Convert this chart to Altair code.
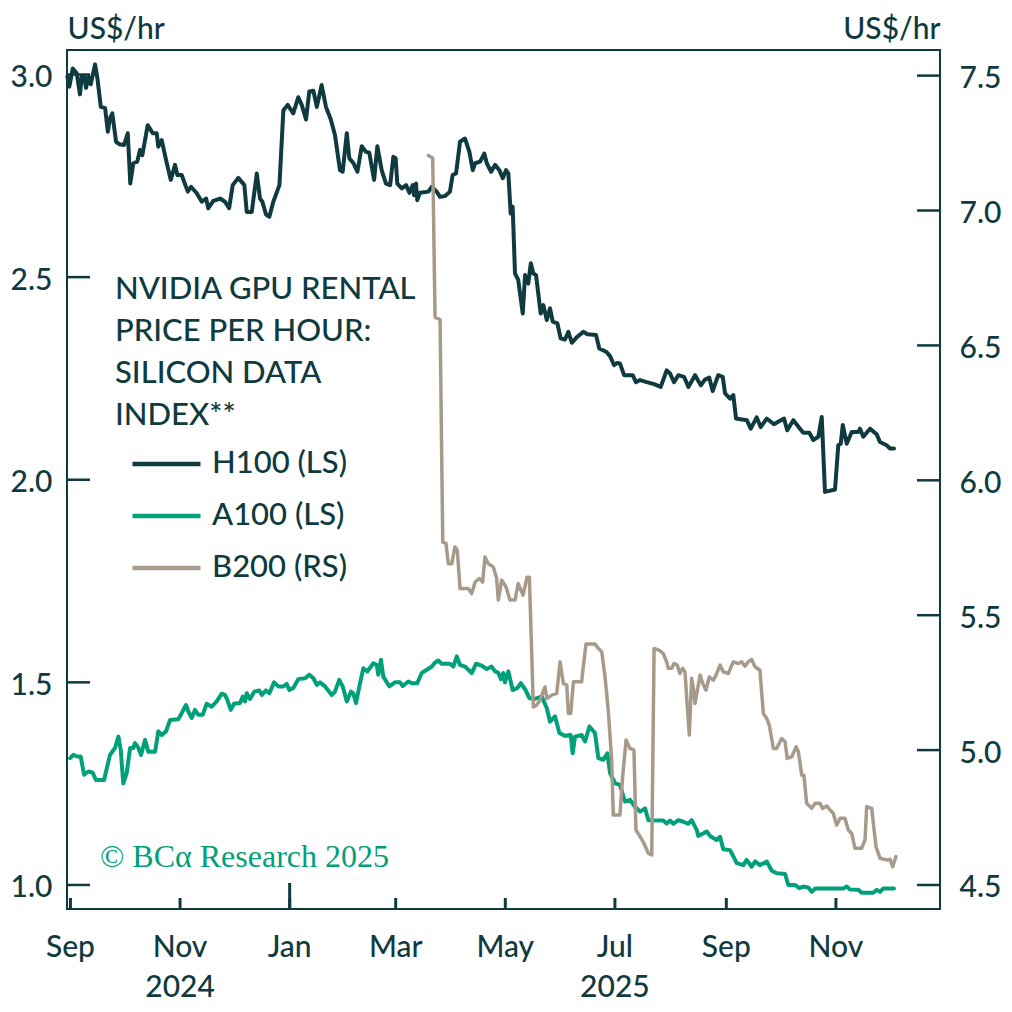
import altair as alt
import pandas as pd

BASE = pd.Timestamp("2024-09-01")

# day offsets from 2024-09-01 and US$/hr values
h100_day = [-1.7,-0.6,1.3,3.5,5.3,6.3,7.6,8.7,10.0,11.3,
            13.7,15.0,16.9,19.3,20.8,22.0,23.3,25.4,27.2,29.8,
            31.9,33.3,35.0,37.2,38.7,40.0,43.0,45.8,48.0,48.9,
            50.8,53.2,55.8,58.2,59.5,61.9,65.3,67.1,70.3,73.1,
            75.5,76.7,79.5,83.3,86.0,88.3,90.3,93.4,96.8,98.1,
            100.9,103.7,105.5,106.8,108.8,110.7,112.9,116.3,118.5,120.9,
            124.0,126.8,128.7,131.1,132.9,135.2,137.1,139.8,142.2,144.9,
            147.2,150.0,151.5,153.8,155.2,157.4,159.7,162.1,164.5,166.3,
            169.0,170.8,173.2,175.6,177.9,179.7,181.0,181.9,184.4,186.8,
            188.6,190.5,191.2,192.3,193.0,194.5,199.2,201.1,203.8,205.7,
            208.5,211.2,212.7,214.6,216.8,219.6,222.0,223.9,225.2,228.0,
            230.3,231.7,234.1,236.3,238.7,240.6,242.4,243.7,245.0,246.1,
            247.4,249.2,251.7,253.0,254.8,256.2,257.6,259.1,261.7,263.2,
            265.1,266.9,268.4,271.0,272.8,275.2,277.1,279.0,282.1,285.4,
            287.7,292.5,294.3,298.1,300.3,302.5,304.3,305.8,308.1,312.9,
            314.7,317.0,320.7,324.8,328.5,331.8,333.7,335.9,338.3,341.5,
            343.9,347.6,350.8,353.1,355.5,357.4,360.5,363.0,364.3,367.1,
            368.9,370.4,376.4,378.6,381.9,384.1,387.5,391.5,393.9,397.1,
            398.9,402.3,406.0,407.8,411.2,413.4,416.2,418.1,419.9,425.5,
            427.3,428.7,429.8,432.0,434.8,438.5,439.4,441.2,445.0,448.7,
            450.5,454.2,456.1,458.3]
h100_val = [2.995,2.970,3.015,3.003,2.951,2.995,2.995,2.967,2.995,2.976,
            3.025,2.991,2.920,2.917,2.859,2.892,2.904,2.834,2.828,2.826,
            2.855,2.731,2.781,2.785,2.814,2.801,2.875,2.855,2.855,2.822,
            2.838,2.789,2.740,2.777,2.752,2.752,2.711,2.723,2.707,2.686,
            2.694,2.670,2.688,2.694,2.686,2.670,2.727,2.745,2.727,2.661,
            2.661,2.756,2.694,2.686,2.655,2.649,2.686,2.727,2.912,2.925,
            2.904,2.944,2.925,2.889,2.958,2.960,2.920,2.974,2.920,2.889,
            2.851,2.764,2.760,2.855,2.793,2.782,2.760,2.823,2.809,2.807,
            2.740,2.823,2.764,2.731,2.727,2.797,2.793,2.731,2.719,2.727,
            2.708,2.727,2.702,2.731,2.690,2.708,2.711,2.723,2.711,2.698,
            2.700,2.711,2.752,2.756,2.834,2.842,2.809,2.764,2.781,2.785,
            2.805,2.781,2.760,2.777,2.764,2.744,2.764,2.756,2.657,2.674,
            2.509,2.493,2.410,2.505,2.484,2.534,2.509,2.505,2.410,2.431,
            2.394,2.423,2.390,2.386,2.349,2.346,2.365,2.338,2.353,2.365,
            2.359,2.357,2.324,2.316,2.305,2.283,2.288,2.287,2.258,2.258,
            2.241,2.246,2.241,2.236,2.229,2.270,2.262,2.241,2.258,2.254,
            2.229,2.258,2.233,2.247,2.252,2.219,2.258,2.254,2.213,2.200,
            2.209,2.151,2.147,2.126,2.154,2.130,2.151,2.137,2.143,2.151,
            2.122,2.147,2.126,2.116,2.116,2.098,2.106,2.155,1.970,1.976,
            2.085,2.089,2.135,2.089,2.118,2.118,2.126,2.106,2.126,2.112,
            2.093,2.085,2.077,2.077]

a100_day = [-0.2,1.6,3.8,5.7,7.6,10.0,12.4,14.2,18.7,22.0,
            24.8,26.7,28.0,29.4,31.3,33.2,35.0,35.9,37.5,39.3,
            41.5,43.3,47.1,48.9,50.8,53.2,55.4,60.0,61.9,64.3,
            65.6,67.5,69.3,71.2,73.6,75.8,78.6,81.4,84.2,86.0,
            87.3,89.2,91.0,94.4,95.9,97.2,98.1,99.9,102.3,105.1,
            106.5,108.8,110.7,113.3,115.7,118.5,120.4,121.8,124.0,126.8,
            130.6,132.9,135.2,137.1,138.9,141.7,145.4,147.2,149.6,151.5,
            153.8,156.1,157.4,158.9,160.8,163.0,165.2,168.6,170.5,171.3,
            172.8,174.1,177.5,180.6,183.4,184.9,188.0,189.9,193.0,195.5,
            198.3,201.1,202.9,204.7,206.6,211.2,213.1,215.0,216.8,219.6,
            223.3,225.7,228.9,231.7,234.4,236.3,238.1,239.5,240.9,241.8,
            243.7,246.1,248.7,250.6,253.0,255.4,258.5,262.3,265.1,266.9,
            269.7,272.1,275.2,278.4,279.5,280.8,284.5,286.4,288.8,291.9,
            293.8,296.6,298.8,300.3,303.1,305.8,308.6,311.4,314.2,317.0,
            319.8,321.6,329.9,331.8,333.7,335.5,338.3,341.1,343.9,345.7,
            348.5,349.4,354.1,355.9,359.6,361.5,363.3,367.1,370.8,374.5,
            376.3,379.1,381.0,383.7,387.5,390.3,393.1,397.7,399.5,403.2,
            405.6,407.8,410.6,412.5,414.4,430.1,432.0,433.8,438.5,440.3,
            446.8,448.7,450.5,452.3,458.3]
a100_val = [1.313,1.321,1.317,1.317,1.272,1.280,1.277,1.259,1.259,1.321,
            1.338,1.366,1.333,1.251,1.276,1.338,1.338,1.350,1.341,1.321,
            1.358,1.329,1.329,1.379,1.370,1.379,1.407,1.409,1.424,1.444,
            1.428,1.412,1.432,1.420,1.420,1.447,1.440,1.453,1.472,1.469,
            1.457,1.432,1.447,1.449,1.465,1.453,1.473,1.459,1.477,1.480,
            1.469,1.480,1.473,1.500,1.490,1.490,1.496,1.481,1.486,1.508,
            1.510,1.519,1.510,1.494,1.500,1.490,1.469,1.477,1.506,1.490,
            1.453,1.477,1.473,1.449,1.490,1.535,1.527,1.547,1.543,1.519,
            1.556,1.514,1.490,1.500,1.500,1.491,1.502,1.498,1.498,1.523,
            1.531,1.539,1.549,1.554,1.546,1.546,1.539,1.564,1.543,1.539,
            1.523,1.546,1.541,1.533,1.539,1.527,1.524,1.508,1.523,1.500,
            1.527,1.481,1.486,1.498,1.483,1.461,1.459,1.465,1.436,1.403,
            1.416,1.375,1.368,1.370,1.325,1.366,1.370,1.354,1.391,1.375,
            1.313,1.309,1.325,1.276,1.251,1.247,1.206,1.210,1.193,1.181,
            1.189,1.160,1.159,1.152,1.159,1.151,1.160,1.156,1.151,1.160,
            1.136,1.121,1.132,1.121,1.111,1.119,1.088,1.086,1.054,1.049,
            1.062,1.045,1.058,1.049,1.058,1.035,1.029,1.027,1.000,1.000,
            0.992,0.996,0.994,0.983,0.991,0.991,0.996,0.989,0.988,0.981,
            0.981,0.988,0.983,0.991,0.991]

b200_day = [199.2,201.6,202.9,204.7,205.7,207.2,209.0,210.3,212.2,214.0,
            215.3,216.8,221.4,223.3,225.2,227.5,229.4,230.7,232.6,235.3,
            237.2,238.1,240.0,242.4,244.6,247.4,249.2,251.9,254.1,255.4,
            257.6,259.5,261.3,264.1,265.1,267.8,270.6,272.5,274.3,276.2,
            277.1,278.4,279.9,284.5,285.4,286.9,291.9,293.8,295.7,297.5,
            299.3,301.2,302.1,305.8,307.3,309.2,311.4,313.6,314.7,317.0,
            319.2,321.6,323.5,324.8,327.7,329.9,331.8,332.7,334.6,335.9,
            337.7,339.2,340.7,342.0,343.3,344.4,345.7,346.6,347.6,348.9,
            350.4,351.9,353.7,355.5,357.8,359.3,361.5,363.3,366.1,368.9,
            371.7,373.6,375.4,377.2,379.1,381.0,383.7,385.6,387.5,388.9,
            391.2,393.0,395.8,397.7,398.9,401.4,403.8,405.1,407.0,408.2,
            409.7,412.5,414.4,417.1,418.6,420.9,422.7,424.5,426.4,428.3,
            431.0,432.9,434.8,436.6,440.3,442.2,443.1,445.9,448.3,450.5,
            454.3,456.1,457.6,459.4]
b200_val = [7.204,7.195,6.605,6.599,6.595,5.771,5.766,5.691,5.691,5.753,
            5.741,5.599,5.599,5.580,5.623,5.636,5.623,5.716,5.691,5.679,
            5.636,5.556,5.630,5.605,5.556,5.556,5.617,5.574,5.641,5.641,
            5.160,5.167,5.185,5.234,5.191,5.204,5.210,5.327,5.247,5.241,
            5.136,5.136,5.253,5.253,5.309,5.393,5.393,5.377,5.364,5.271,
            5.148,4.963,4.759,4.759,4.901,5.037,5.006,5.000,4.704,4.679,
            4.654,4.617,4.611,5.377,5.370,5.358,5.327,5.303,5.303,5.321,
            5.315,5.284,5.303,5.290,5.160,5.056,5.266,5.234,5.173,5.222,
            5.278,5.247,5.222,5.271,5.259,5.278,5.315,5.290,5.284,5.327,
            5.321,5.327,5.311,5.327,5.336,5.309,5.296,5.136,5.117,5.093,
            5.006,5.006,5.043,5.031,4.969,4.975,5.012,4.994,4.907,4.907,
            4.803,4.784,4.803,4.803,4.784,4.793,4.778,4.766,4.722,4.747,
            4.747,4.704,4.691,4.636,4.636,4.667,4.790,4.784,4.642,4.599,
            4.593,4.595,4.568,4.605]

series_names = ["H100 (LS)", "A100 (LS)", "B200 (RS)"]
series_colors = ["#0f3b40", "#00a07a", "#a89a8a"]
legend_title = ["NVIDIA GPU RENTAL", "PRICE PER HOUR:", "SILICON DATA", "INDEX**"]
left_ticks = [1.0, 1.5, 2.0, 2.5, 3.0]
right_ticks = [4.5, 5.0, 5.5, 6.0, 6.5, 7.0, 7.5]
month_ticks = ["2024-09-01T00:00:00", "2024-11-01T00:00:00", "2025-01-01T00:00:00",
               "2025-03-01T00:00:00", "2025-05-01T00:00:00", "2025-07-01T00:00:00",
               "2025-09-01T00:00:00", "2025-11-01T00:00:00"]
month_labels = ["Sep", "Nov", "Jan", "Mar", "May", "Jul", "Sep", "Nov"]
year_ticks = ["2025-01-01T00:00:00"]
year_label_dates = ["2024-11-01T00:00:00", "2025-07-01T00:00:00"]
year_labels = ["2024", "2025"]
unit_label = "US$/hr"
copyright = "© BCα Research 2025"

DARK = "#0f3b40"
GREEN = "#00a07a"
FONT = "Lato"
WEIGHT = 500


def frame(days, vals, name):
    dates = BASE + pd.to_timedelta(days, unit="D")
    return pd.DataFrame({"date": dates.strftime("%Y-%m-%dT%H:%M:%S"),
                         "value": vals, "series": name})


df_left = pd.concat([frame(h100_day, h100_val, series_names[0]),
                     frame(a100_day, a100_val, series_names[1])])
df_right = frame(b200_day, b200_val, series_names[2])

x_scale = alt.Scale(domain=[alt.DateTime(year=2024, month=8, date=30, hours=2),
                            alt.DateTime(year=2025, month=12, date=28, hours=22)])
left_scale = alt.Scale(domain=[0.9407, 3.0605], nice=False, zero=False)
right_scale = alt.Scale(domain=[4.411, 7.595], nice=False, zero=False)

color = alt.Color(
    "series:N",
    scale=alt.Scale(domain=series_names, range=series_colors),
    legend=alt.Legend(
        title=legend_title, orient="none", legendX=48, legendY=225,
        symbolType="stroke", symbolSize=4624, symbolStrokeWidth=4.5,
        symbolOffset=15, labelOffset=9, labelFontSize=31, labelFont=FONT,
        labelFontWeight=WEIGHT, labelColor=DARK, labelLimit=400,
        titleFontSize=31, titleFont=FONT, titleColor=DARK,
        titleFontWeight=WEIGHT, titleLineHeight=42, titlePadding=6,
        titleLimit=700, clipHeight=52, rowPadding=0, padding=0,
    ),
)

left_axis = alt.Axis(
    orient="left", values=left_ticks, format=".1f", ticks=False, domain=False,
    grid=False, labelFontSize=30, labelFont=FONT, labelFontWeight=WEIGHT,
    labelColor=DARK, labelPadding=15, labelOffset=3, title=unit_label,
    titleAngle=0, titleAlign="left", titleBaseline="alphabetic", titleX=0,
    titleY=-12, titleFontSize=30, titleFont=FONT, titleFontWeight=WEIGHT,
    titleColor=DARK,
)
right_axis = alt.Axis(
    orient="right", values=right_ticks, format=".1f", ticks=False, domain=False,
    grid=False, labelFontSize=30, labelFont=FONT, labelFontWeight=WEIGHT,
    labelColor=DARK, labelPadding=19, labelOffset=3, title=unit_label,
    titleAngle=0, titleAlign="right", titleBaseline="alphabetic", titleX=0,
    titleY=-12, titleFontSize=30, titleFont=FONT, titleFontWeight=WEIGHT,
    titleColor=DARK,
)

# x-axis: inward ticks and labels placed through the shared time scale
ticks_month = alt.Chart(pd.DataFrame({"date": month_ticks})).mark_rule(
    color=DARK, strokeWidth=3
).encode(
    x=alt.X("date:T", scale=x_scale, axis=None),
    y=alt.value(848), y2=alt.value(859),
)
ticks_year = alt.Chart(pd.DataFrame({"date": year_ticks})).mark_rule(
    color=DARK, strokeWidth=3
).encode(
    x=alt.X("date:T", scale=x_scale, axis=None),
    y=alt.value(833), y2=alt.value(859),
)
months = alt.Chart(pd.DataFrame({"date": month_ticks, "label": month_labels})).mark_text(
    align="center", baseline="alphabetic", font=FONT, fontSize=30,
    fontWeight=WEIGHT, color=DARK
).encode(
    x=alt.X("date:T", scale=x_scale, axis=None),
    y=alt.value(907), text="label:N",
)
years = alt.Chart(pd.DataFrame({"date": year_label_dates, "label": year_labels})).mark_text(
    align="center", baseline="alphabetic", font=FONT, fontSize=30,
    fontWeight=WEIGHT, color=DARK
).encode(
    x=alt.X("date:T", scale=x_scale, axis=None),
    y=alt.value(947), text="label:N",
)

lines_left = alt.Chart(df_left).mark_line(
    strokeWidth=4, strokeJoin="round", strokeCap="round"
).encode(
    x=alt.X("date:T", scale=x_scale, axis=None),
    y=alt.Y("value:Q", scale=left_scale, axis=left_axis),
    color=color,
    detail="series:N",
)

lines_right = alt.Chart(df_right).mark_line(
    strokeWidth=3.5, strokeJoin="round", strokeCap="round"
).encode(
    x=alt.X("date:T", scale=x_scale, axis=None),
    y=alt.Y("value:Q", scale=right_scale, axis=right_axis),
    color=color,
)

ticks_left = alt.Chart(pd.DataFrame({"tick": left_ticks})).mark_rule(
    color=DARK, strokeWidth=2.5
).encode(
    y=alt.Y("tick:Q", scale=left_scale, axis=None),
    x=alt.value(0), x2=alt.value(23),
)
ticks_right = alt.Chart(pd.DataFrame({"tick": right_ticks})).mark_rule(
    color=DARK, strokeWidth=2.5
).encode(
    y=alt.Y("tick:Q", scale=right_scale, axis=None),
    x=alt.value(850), x2=alt.value(873),
)

note = alt.Chart(pd.DataFrame({"t": [copyright]})).mark_text(
    align="left", baseline="alphabetic", font="Liberation Serif",
    fontSize=32, color=GREEN
).encode(text="t:N", x=alt.value(33), y=alt.value(817))

chart = alt.layer(
    ticks_month, ticks_year, months, years, lines_left, ticks_left,
    lines_right, ticks_right, note
).resolve_scale(y="independent").properties(
    width=873, height=859,
    autosize=alt.AutoSizeParams(type="none"),
    padding={"left": 59, "top": 42, "right": 64, "bottom": 95},
).configure(font=FONT).configure_view(stroke=DARK, strokeWidth=2)

chart.save("out.html", embed_options={"renderer": "svg", "actions": False})
